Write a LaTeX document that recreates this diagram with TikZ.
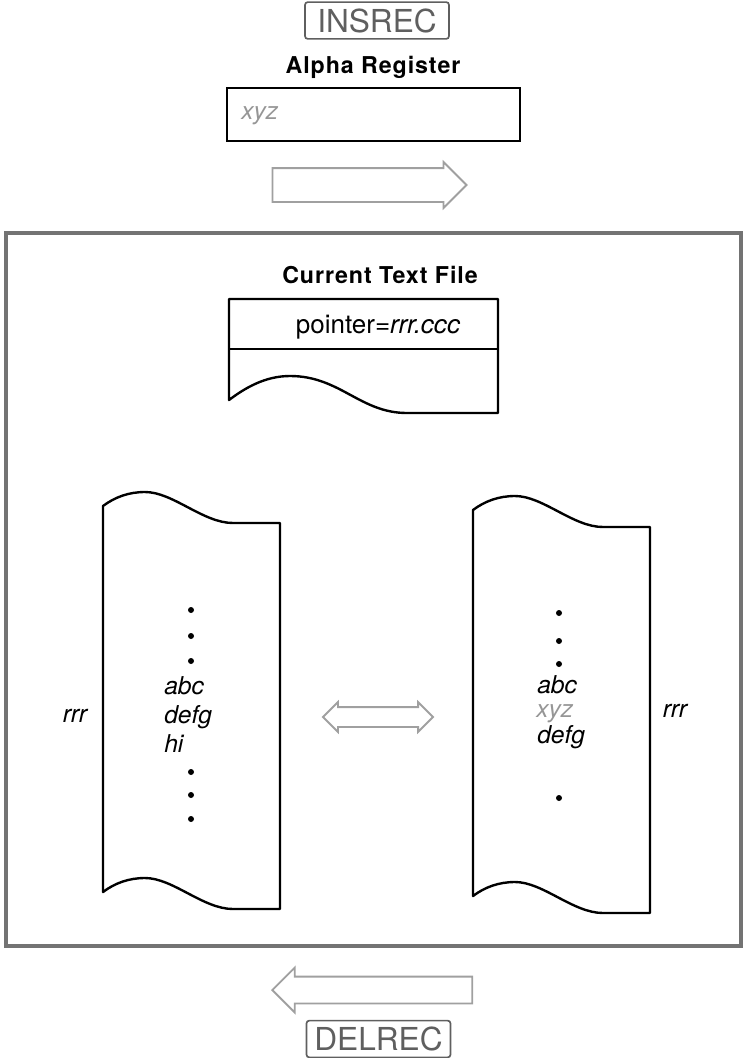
\documentclass[tikz,border=0pt]{standalone}
\usepackage{fontspec}
\setmainfont{TeX Gyre Heros}
\newfontfamily\titlefont[LetterSpace=4]{TeX Gyre Heros}
\usepackage{tikz}
\usetikzlibrary{shapes.arrows}
\definecolor{keygray}{RGB}{95,95,95}
\definecolor{framegray}{RGB}{115,115,115}
\definecolor{arrowgray}{RGB}{160,160,160}
\definecolor{newgray}{RGB}{150,150,150}
\tikzset{
  key box/.style={
    draw=keygray,
    text=keygray,
    line width=1.2pt,
    rounded corners=2pt,
    minimum width=36mm,
    minimum height=9.2mm,
    inner sep=0pt,
    font=\fontsize{22.5}{26}\selectfont
  },
  title/.style={
    anchor=base,
    inner sep=0pt,
    font=\titlefont\bfseries\fontsize{16.5}{19}\selectfont
  },
  entry/.style={
    anchor=base west,
    inner sep=0pt,
    font=\itshape\fontsize{17.5}{21}\selectfont
  },
  new entry/.style={
    entry,
    text=newgray
  },
  dot/.style={
    circle,
    fill=black,
    inner sep=0pt,
    minimum size=1.5mm
  },
  page line/.style={
    line width=1.7pt,
    line join=round
  },
  block arrow/.style={
    single arrow,
    draw=arrowgray,
    line width=1.3pt,
    inner xsep=0pt,
    single arrow tip angle=90,
    single arrow head indent=0pt
  },
  swap arrow/.style={
    double arrow,
    draw=arrowgray,
    line width=1.3pt,
    inner xsep=0pt,
    double arrow tip angle=90,
    double arrow head indent=0pt
  },
  textpage/.pic={
    \draw[page line] (0,0) .. controls (12,-9) and (26,-14) .. (42,-14)
      .. controls (70,-14) and (100,17) .. (130,17) -- (177,17) -- (177,403)
      -- (130,403) .. controls (100,403) and (70,372) .. (42,372)
      .. controls (26,372) and (12,377) .. (0,386) -- cycle;
  }
}

\begin{document}
\begin{tikzpicture}[x=0.25mm, y=-0.25mm]
  \useasboundingbox (0,0) rectangle (745,1058);

  % Insert key and alpha register
  \node[key box] (insrec) at (377,20.5) {INSREC};
  \node[title] (alphatitle) at (373,73) {Alpha Register};
  \draw[line width=1.9pt] (227,88) rectangle (520,141);
  \node[new entry] (alphaxyz) at (241,119) {xyz};
  \node[block arrow, minimum height=48.5mm, inner ysep=4mm,
        single arrow head extend=1.5mm] (insarrow) at (361,185) {};

  % Current text file
  \draw[line width=3pt, draw=framegray] (6,233) rectangle (741,946);
  \node[title] (filetitle) at (380,283) {Current Text File};
  \draw[page line] (229,349) -- (229,299) -- (498,299) -- (498,413) -- (407,413)
    .. controls (360,413) and (340,376) .. (290,376)
    .. controls (265,376) and (245,388) .. (229,400) -- cycle;
  \draw[page line] (229,349) -- (498,349);
  \node[anchor=base, inner sep=0pt, font=\fontsize{18.5}{22}\selectfont] (pointer)
    at (378,333) {pointer=\textit{rrr.ccc}};

  % Before
  \pic at (103,506) {textpage};
  \foreach \y in {610,636,661,772,795,819}
    \node[dot] (ldot\y) at (191,\y) {};
  \node[entry] (labc) at (164,694) {abc};
  \node[entry] (ldefg) at (164,723) {defg};
  \node[entry] (lhi) at (164,752) {hi};
  \node[entry, anchor=base] (lrrr) at (75,722) {rrr};

  \node[swap arrow, minimum height=27.5mm, inner ysep=2.25mm,
        double arrow head extend=1.25mm] (swap) at (378,717) {};

  % After
  \pic at (473,510) {textpage};
  \foreach \y in {613,641,664,798}
    \node[dot] (rdot\y) at (559,\y) {};
  \node[entry] (rabc) at (537,693) {abc};
  \node[new entry] (rxyz) at (536,717) {xyz};
  \node[entry] (rdefg) at (537,743) {defg};
  \node[entry, anchor=base] (rrrr) at (675,717) {rrr};

  % Delete key
  \node[block arrow, shape border rotate=180, minimum height=50mm, inner ysep=3.125mm,
        single arrow head extend=2.25mm] (delarrow) at (379,990) {};
  \node[key box] (delrec) at (378.5,1039) {DELREC};
\end{tikzpicture}
\end{document}
